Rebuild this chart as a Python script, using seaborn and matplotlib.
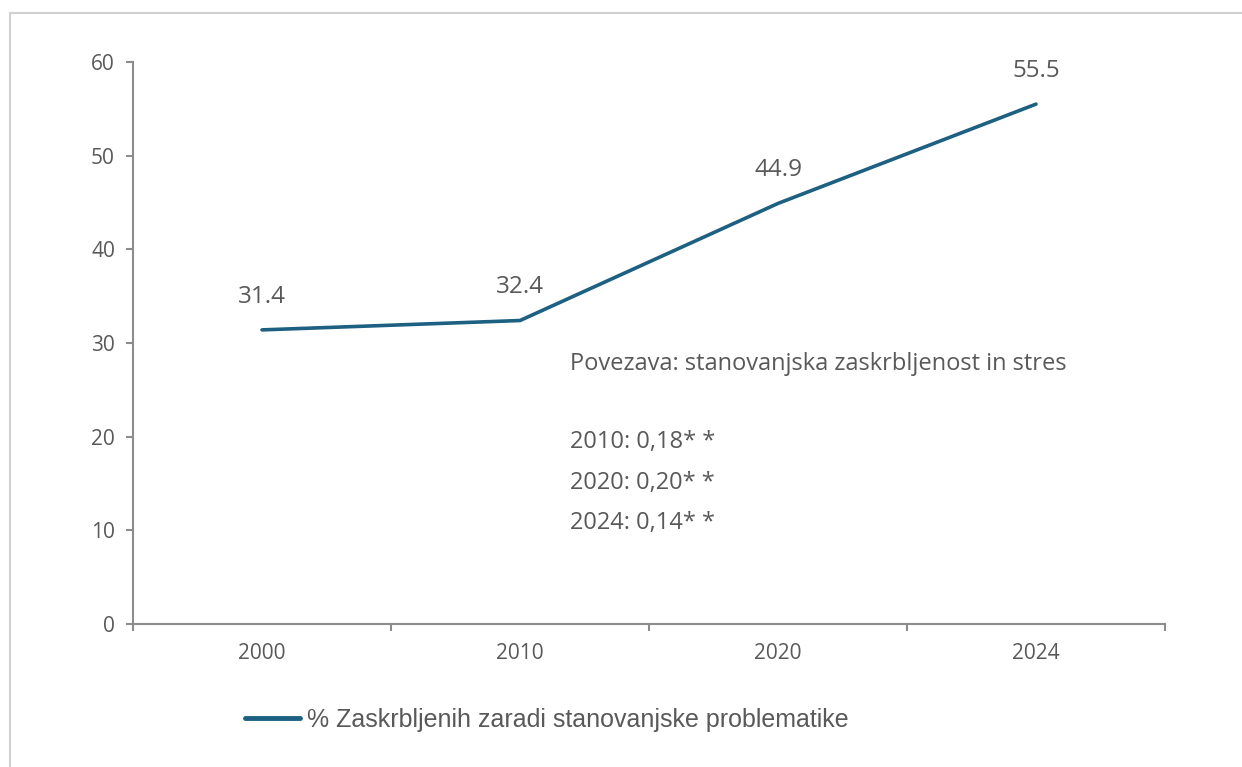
import matplotlib
matplotlib.use("Agg")
import matplotlib.pyplot as plt
import matplotlib.patches as mpatches
import seaborn as sns
import pandas as pd

# data
years = ["2000", "2010", "2020", "2024"]
share_worried = [31.4, 32.4, 44.9, 55.5]
series_name = "% Zaskrbljenih zaradi stanovanjske problematike"
note_title = "Povezava: stanovanjska zaskrbljenost in stres"
note_lines = ["2010: 0,18* *", "2020: 0,20* *", "2024: 0,14* *"]

line_color = "#1d6082"
text_color = "#595959"
axis_color = "#8c8c8c"

sns.set_style("white")
plt.rcParams["font.family"] = ["Open Sans", "DejaVu Sans"]

df = pd.DataFrame({"year": years, "value": share_worried})
df["pos"] = range(len(years))

fig = plt.figure(figsize=(12.42, 7.67), dpi=100)
ax = fig.add_axes([0.1071, 0.1864, 0.8309, 0.7328])

sns.lineplot(data=df, x="pos", y="value", color=line_color, linewidth=2.6,
             label=series_name, ax=ax)

# data labels above each point
for i, v in enumerate(share_worried):
    ax.annotate(f"{v:.1f}", (i, v), xytext=(0, 24), textcoords="offset points",
                ha="center", va="center", fontsize=17.5, color=text_color)

ax.set_xlim(-0.5, len(years) - 0.5)
ax.set_ylim(0, 60)
ax.set_yticks(range(0, 61, 10))

# category labels centred, tick marks between categories
ax.set_xticks([i - 0.5 for i in range(len(years) + 1)])
ax.set_xticklabels([])
ax.set_xticks(range(len(years)), minor=True)
ax.set_xticklabels(years, minor=True)
ax.tick_params(axis="x", which="minor", bottom=False, length=0, pad=14, labelsize=15,
               labelcolor=text_color)
ax.tick_params(axis="x", which="major", bottom=True, length=5, width=1.5, color=axis_color,
               direction="out")
ax.tick_params(axis="y", left=True, length=5, width=1.5, color=axis_color, labelsize=15,
               labelcolor=text_color, pad=8)

for side in ["top", "right"]:
    ax.spines[side].set_visible(False)
for side in ["left", "bottom"]:
    ax.spines[side].set_color(axis_color)
    ax.spines[side].set_linewidth(1.5)

ax.set_xlabel("")
ax.set_ylabel("")

# note text block (figure coordinates)
fig.text(0.4589, 0.5254, note_title, ha="left", va="center", fontsize=17, color=text_color)
for k, line in enumerate(note_lines):
    fig.text(0.4589, 0.4237 - k * 0.0528, line, ha="left", va="center", fontsize=17,
             color=text_color)

# legend at the bottom
leg = ax.legend(loc="center left", bbox_to_anchor=(0.179, 0.0613), bbox_transform=fig.transFigure,
                frameon=False, handlelength=2.2, handletextpad=0.28,
                prop={"family": "Liberation Sans", "size": 18})
for t in leg.get_texts():
    t.set_color(text_color)
for h in leg.get_lines():
    h.set_linewidth(3.5)

# light frame around the chart area
frame = mpatches.Rectangle((10 / 1242, -0.01), 1.2, 1 - 13 / 767 + 0.01, transform=fig.transFigure,
                           fill=False, edgecolor="#d0d0d0", linewidth=1.5)
fig.patches.append(frame)

fig.savefig("out.png", dpi=100)
